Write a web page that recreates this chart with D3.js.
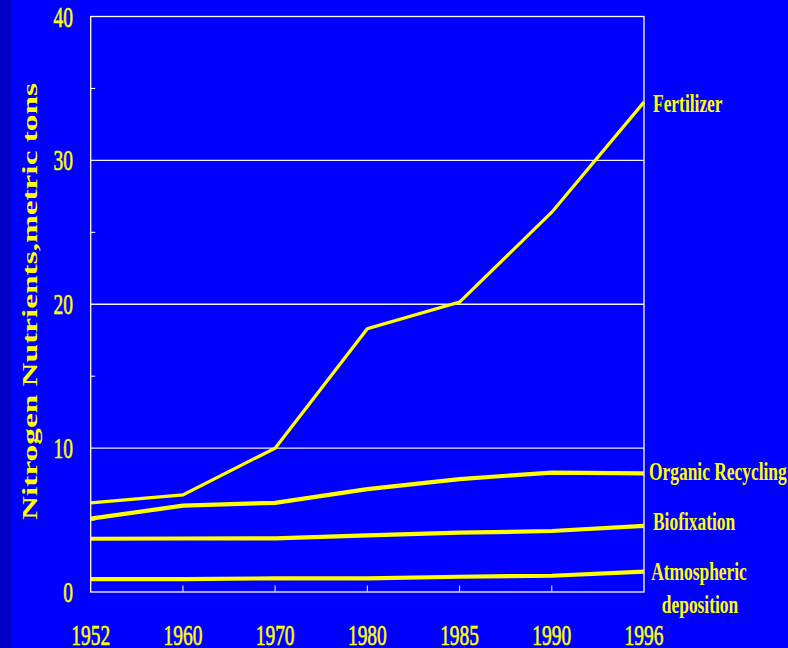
<!DOCTYPE html>
<html>
<head>
<meta charset="utf-8">
<script src="https://cdn.jsdelivr.net/npm/d3@7"></script>
<style>
  html, body { margin: 0; padding: 0; background: #0000FF; }
  svg { display: block; }
</style>
</head>
<body>
<svg id="chart" width="788" height="648"></svg>
<script>
// ---- data ----
const years = ["1952", "1960", "1970", "1980", "1985", "1990", "1996"];
const fertilizer  = [6.2, 6.75, 10.0, 18.3, 20.15, 26.4, 34.05];
const organic     = [5.1, 6.0, 6.2, 7.15, 7.85, 8.3, 8.25];
const biofixation = [3.7, 3.72, 3.73, 3.94, 4.12, 4.24, 4.6];
const atmospheric = [0.9, 0.9, 0.95, 0.95, 1.06, 1.13, 1.41];
const yTicks = [0, 10, 20, 30, 40];
const yMinorTicks = [5, 15, 25, 35];
const seriesNames = ["Fertilizer", "Organic Recycling", "Biofixation", "Atmospheric deposition"];
const yTitle = "Nitrogen Nutrients,metric tons";

// ---- layout ----
const W = 788, H = 648;
const mLeft = 90.7, mRight = 644, mTop = 16.5, mBottom = 592;
const yellow = "#FFFF00";
const font = "'Liberation Serif', 'Times New Roman', serif";
const squeeze = 0.67;

const svg = d3.select("#chart");
svg.append("rect").attr("width", W).attr("height", H).attr("fill", "#0000FF");
svg.append("rect").attr("width", 11).attr("height", H).attr("fill", "#0000C8");

const x = d3.scalePoint().domain(years).range([mLeft, mRight]);
const y = d3.scaleLinear().domain([0, 40]).range([mBottom, mTop]);

// grid lines
svg.append("g").selectAll("line").data(yTicks.filter(t => t > 0 && t < 40)).join("line")
  .attr("x1", mLeft).attr("x2", mRight)
  .attr("y1", d => y(d)).attr("y2", d => y(d))
  .attr("stroke", "#EEEEFF").attr("stroke-width", 1.4);

// frame
svg.append("rect").attr("x", mLeft).attr("y", mTop)
  .attr("width", mRight - mLeft).attr("height", mBottom - mTop)
  .attr("fill", "none").attr("stroke", "#FFFFFF").attr("stroke-width", 1.3);

// minor ticks on left (inward)
svg.append("g").selectAll("line").data(yMinorTicks).join("line")
  .attr("x1", mLeft).attr("x2", mLeft + 4.5)
  .attr("y1", d => y(d)).attr("y2", d => y(d))
  .attr("stroke", "#FFFFFF").attr("stroke-width", 1);

// bottom ticks (upward)
svg.append("g").selectAll("line").data(years.slice(1, -1)).join("line")
  .attr("x1", d => x(d)).attr("x2", d => x(d))
  .attr("y1", mBottom).attr("y2", mBottom - 6.5)
  .attr("stroke", "#D0D0FF").attr("stroke-width", 1.2);

// y tick labels
svg.append("g").selectAll("text").data(yTicks).join("text")
  .attr("transform", d => `translate(73,${y(d) + 10}) scale(${squeeze},1)`)
  .attr("text-anchor", "end")
  .attr("font-family", font).attr("font-size", 29)
  .attr("fill", yellow).attr("stroke", yellow).attr("stroke-width", 0.6)
  .text(d => d);

// x tick labels
svg.append("g").selectAll("text").data(years).join("text")
  .attr("transform", d => `translate(${x(d)},644.5) scale(${squeeze},1)`)
  .attr("text-anchor", "middle")
  .attr("font-family", font).attr("font-size", 29)
  .attr("fill", yellow).attr("stroke", yellow).attr("stroke-width", 0.6)
  .text(d => d);

// y axis title
svg.append("text")
  .attr("transform", "translate(37,301.5) rotate(-90)")
  .attr("text-anchor", "middle")
  .attr("font-family", font).attr("font-weight", "bold").attr("font-size", 21)
  .attr("textLength", 437).attr("lengthAdjust", "spacingAndGlyphs")
  .attr("fill", yellow)
  .text(yTitle);

// lines
const line = d3.line().x((d, i) => x(years[i])).y(d => y(d));
const allSeries = [
  { values: fertilizer, width: 3.2 },
  { values: organic, width: 4.2 },
  { values: biofixation, width: 4.2 },
  { values: atmospheric, width: 4.2 }
];
svg.append("g").selectAll("path").data(allSeries).join("path")
  .attr("d", d => line(d.values))
  .attr("fill", "none")
  .attr("stroke", yellow)
  .attr("stroke-width", d => d.width)
  .attr("stroke-linejoin", "miter");

// series labels
const labels = [
  { text: seriesNames[0], x: 653, y: 111.5, anchor: "start" },
  { text: seriesNames[1], x: 649, y: 480, anchor: "start" },
  { text: seriesNames[2], x: 653, y: 529.5, anchor: "start" },
  { text: "Atmospheric", x: 699, y: 579.5, anchor: "middle" },
  { text: "deposition", x: 700, y: 612.5, anchor: "middle" }
];
svg.append("g").selectAll("text").data(labels).join("text")
  .attr("transform", d => `translate(${d.x},${d.y}) scale(${squeeze},1)`)
  .attr("text-anchor", d => d.anchor)
  .attr("font-family", font).attr("font-weight", "bold").attr("font-size", 26)
  .attr("fill", yellow)
  .text(d => d.text);
</script>
</body>
</html>
